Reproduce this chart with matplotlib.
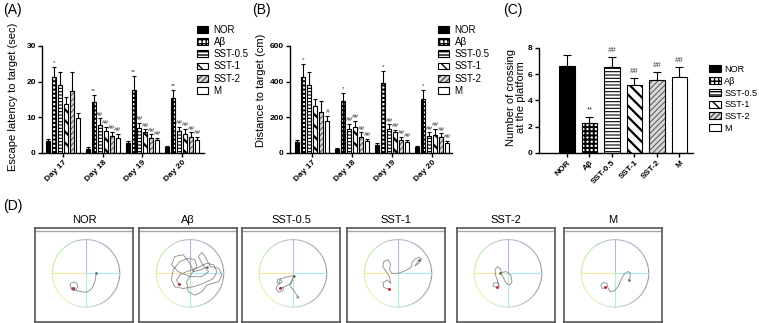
import numpy as np
import matplotlib
matplotlib.use("Agg")
import matplotlib.pyplot as plt
from matplotlib.patches import Patch
from matplotlib.collections import LineCollection
from matplotlib.colors import LinearSegmentedColormap

plt.rcParams['font.family'] = ['Liberation Sans', 'DejaVu Sans']
plt.rcParams['hatch.linewidth'] = 1.0

W, H = 759, 323

groups = ["NOR", "A\u03b2", "SST-0.5", "SST-1", "SST-2", "M"]
days = ["Day 17", "Day 18", "Day 19", "Day 20"]

# (A) escape latency (sec): rows = days, cols = groups
lat_mean = [[3.3, 21.2, 19.1, 13.6, 17.3, 9.9],
            [1.2, 14.2, 7.9, 6.1, 4.7, 4.2],
            [2.7, 17.6, 7.1, 5.8, 4.3, 3.6],
            [1.8, 15.5, 6.1, 5.3, 4.6, 3.6]]
lat_top = [[3.9, 24.1, 22.8, 15.7, 22.6, 11.2],
           [1.6, 16.4, 9.7, 7.3, 5.9, 5.4],
           [3.5, 21.5, 8.5, 6.6, 5.2, 4.3],
           [2.1, 17.6, 7.3, 6.8, 5.8, 4.5]]
lat_sig = [["", "*", "", "", "", ""],
           ["", "**", "##", "##", "##", "##"],
           ["", "**", "##", "##", "##", "##"],
           ["", "**", "##", "##", "##", "##"]]

# (B) distance to target (cm)
dist_mean = [[62, 426, 383, 264, 228, 179],
             [24, 290, 136, 146, 90, 67],
             [47, 391, 135, 116, 75, 62],
             [34, 305, 98, 103, 90, 58]]
dist_top = [[75, 501, 454, 301, 292, 206],
            [30, 335, 164, 178, 116, 80],
            [58, 462, 161, 131, 90, 75],
            [41, 355, 115, 135, 110, 70]]
dist_sig = [["", "*", "", "", "", "#"],
            ["", "*", "##", "##", "##", "##"],
            ["", "*", "##", "##", "##", "##"],
            ["", "*", "##", "##", "##", "##"]]

# (C) number of crossings
cross_mean = [6.65, 2.3, 6.54, 5.2, 5.57, 5.78]
cross_top = [7.5, 2.77, 7.28, 5.72, 6.14, 6.55]
cross_sig = ["", "**", "##", "##", "##", "##"]

# (D) swim paths, unit circle coords
nor_path = [(-0.40, -0.45), (-0.47, -0.40), (-0.46, -0.30), (-0.37, -0.26), (-0.27, -0.30),
            (-0.24, -0.40), (-0.30, -0.48), (-0.40, -0.50), (-0.44, -0.46), (-0.36, -0.50),
            (-0.20, -0.53), (-0.05, -0.56), (0.05, -0.55), (0.15, -0.48), (0.22, -0.36),
            (0.27, -0.22), (0.29, -0.10), (0.30, 0.02)]
ab_path = [(-0.33, -0.32), (-0.40, -0.20), (-0.30, -0.05), (-0.10, 0.05), (0.20, 0.15),
           (0.50, 0.30), (0.70, 0.25), (0.80, 0.05), (0.70, -0.15), (0.40, -0.30),
           (0.10, -0.40), (-0.20, -0.45), (-0.45, -0.40), (-0.55, -0.20), (-0.50, 0.10),
           (-0.30, 0.35), (-0.05, 0.45), (0.15, 0.40), (0.20, 0.20), (0.05, 0.00),
           (-0.10, -0.25), (-0.05, -0.55), (0.15, -0.65), (0.35, -0.55), (0.50, -0.35),
           (0.85, -0.25), (0.95, -0.05), (0.85, 0.15), (0.60, 0.20), (0.45, 0.50),
           (0.35, 0.62), (0.25, 0.50), (0.35, 0.30), (0.55, 0.05), (0.35, -0.10),
           (0.00, -0.10), (-0.35, 0.05), (-0.55, 0.25), (-0.45, 0.50), (-0.20, 0.55),
           (0.00, 0.30), (0.10, 0.05), (0.30, 0.10), (0.50, 0.18)]
sst05_path = [(0.02, -0.07), (-0.15, -0.10), (-0.32, -0.15), (-0.45, -0.18), (-0.48, -0.26),
              (-0.40, -0.32), (-0.33, -0.26), (-0.38, -0.18), (-0.42, -0.30), (-0.48, -0.38),
              (-0.50, -0.48), (-0.42, -0.56), (-0.30, -0.52), (-0.28, -0.42), (-0.38, -0.45),
              (-0.25, -0.40), (-0.05, -0.30), (0.02, -0.07), (-0.10, -0.35), (0.05, -0.55),
              (0.14, -0.68), (0.18, -0.72), (0.12, -0.74), (0.12, -0.68)]
sst1_path = [(-0.28, -0.47), (-0.42, -0.42), (-0.45, -0.28), (-0.32, -0.20), (-0.22, -0.30),
             (-0.25, -0.10), (-0.35, 0.05), (-0.45, 0.20), (-0.42, 0.35), (-0.30, 0.40),
             (-0.22, 0.28), (-0.25, 0.10), (-0.18, 0.00), (0.00, 0.00), (0.15, 0.05),
             (0.30, 0.12), (0.40, 0.20), (0.42, 0.32), (0.50, 0.42), (0.62, 0.48),
             (0.70, 0.42), (0.62, 0.30), (0.50, 0.22), (0.63, 0.40)]
sst2_path = [(-0.34, -0.42), (-0.45, -0.38), (-0.42, -0.28), (-0.30, -0.28), (-0.26, -0.38),
             (-0.32, -0.20), (-0.38, -0.02), (-0.38, 0.12), (-0.30, 0.20), (-0.22, 0.12),
             (-0.18, -0.05), (-0.05, -0.30), (0.05, -0.35), (0.12, -0.25), (0.08, -0.05),
             (-0.05, 0.05), (-0.24, 0.02)]
m_path = [(-0.29, -0.42), (-0.38, -0.45), (-0.42, -0.35), (-0.35, -0.27), (-0.24, -0.30),
          (-0.22, -0.40), (-0.15, -0.55), (-0.02, -0.52), (0.10, -0.38), (0.20, -0.15),
          (0.28, -0.02), (0.38, 0.05), (0.45, 0.02), (0.45, -0.10), (0.41, -0.20)]
paths = [nor_path, ab_path, sst05_path, sst1_path, sst2_path, m_path]
start_pts = [(-0.40, -0.45), (-0.33, -0.32), (-0.38, -0.45), (-0.28, -0.47), (-0.34, -0.42), (-0.29, -0.42)]
end_pts = [(0.30, 0.02), (0.50, 0.18), (0.02, -0.07), (0.63, 0.40), (-0.24, 0.02), (0.41, -0.20)]

# bar styles: face, hatch, hatch colour, hatch width
styles = [("black", "", "black", 1.0),
          ("white", "++++", "black", 1.4),
          ("white", "-----", "black", 0.8),
          ("white", "\\\\\\", "black", 1.6),
          ("#d8d8d8", "//////", "#555555", 0.7),
          ("white", "", "black", 1.0)]


def rect(x0, y0, x1, y1):
    return [x0 / W, 1 - y1 / H, (x1 - x0) / W, (y1 - y0) / H]


def styled_bar(ax, x, h, w, k, top, capsize):
    face, hatch, hc, hlw = styles[k]
    bars = ax.bar(x, h, w, color=face, edgecolor=hc, hatch=hatch, linewidth=0, zorder=2)
    for p in bars:
        if hasattr(p, "set_hatch_linewidth"):
            p.set_hatch_linewidth(hlw)
    ax.bar(x, h, w, fill=False, edgecolor="black", linewidth=0.8, zorder=3)
    err = np.array(top) - np.array(h)
    ax.errorbar(x, h, yerr=[np.zeros_like(err), err], fmt="none", ecolor="black",
                elinewidth=0.8, capsize=capsize, capthick=0.8, zorder=1)


def style_axes(ax):
    for s in ["top", "right"]:
        ax.spines[s].set_visible(False)
    for s in ["left", "bottom"]:
        ax.spines[s].set_linewidth(1.0)
    ax.tick_params(length=3, width=1.0, labelsize=6, pad=1.5)
    for lab in ax.get_yticklabels():
        lab.set_fontweight("bold")


def legend_handles():
    hs = []
    for face, hatch, hc, hlw in styles:
        hs.append((Patch(facecolor=face, edgecolor=hc, hatch=hatch, linewidth=0),
                   Patch(fill=False, edgecolor="black", linewidth=0.8)))
    return hs


fig = plt.figure(figsize=(W / 100, H / 100), dpi=100)

bw = 0.15
for ax_rect, xlim, means, tops, sigs, ylim, yt, ylab, ylx, yly, legx, off in [
        (rect(42, 46, 204, 153), (-0.53, 3.55), lat_mean, lat_top, lat_sig, 30, [0, 10, 20, 30],
         "Escape latency to target (sec)", 13, 97, 197, 0.5),
        (rect(290, 46, 452, 153), (-0.56, 3.49), dist_mean, dist_top, dist_sig, 600, [0, 200, 400, 600],
         "Distance to target (cm)", 261, 90, 438, 10)]:
    ax = fig.add_axes(ax_rect)
    for k in range(6):
        xs = np.arange(4) + (k - 2.5) * bw
        h = [means[d][k] for d in range(4)]
        t = [tops[d][k] for d in range(4)]
        styled_bar(ax, xs, h, 0.1, k, t, 1.3)
        for d in range(4):
            if sigs[d][k]:
                ax.text(xs[d], t[d] + off, sigs[d][k], ha="center", va="bottom",
                        fontsize=4.6, color="#333333", style="italic" if "#" in sigs[d][k] else "normal")
    ax.set_xlim(*xlim)
    ax.set_ylim(0, ylim)
    ax.set_yticks(yt)
    ax.set_xticks(np.arange(4))
    ax.set_xticklabels(days, rotation=45, ha="right", rotation_mode="anchor",
                       fontsize=6, fontweight="bold")
    style_axes(ax)
    ax.tick_params(axis="x", length=3)
    fig.text(ylx / W, 1 - yly / H, ylab, rotation=90, ha="center", va="center", fontsize=8)
    fig.legend(legend_handles(), groups, loc="upper left", bbox_to_anchor=(legx / W, 1 - 25 / H),
               frameon=False, fontsize=7, handlelength=1.1, handleheight=0.7,
               handletextpad=0.6, labelspacing=0.22, borderpad=0, borderaxespad=0)

# (C)
axc = fig.add_axes(rect(539, 48, 693, 153))
for k in range(6):
    styled_bar(axc, [k], [cross_mean[k]], 0.69, k, [cross_top[k]], 3)
    if cross_sig[k]:
        axc.text(k, cross_top[k] + 0.25, cross_sig[k], ha="center", va="bottom",
                 fontsize=5.5, color="#333333", style="italic" if "#" in cross_sig[k] else "normal")
axc.set_xlim(-1.24, 5.6)
axc.set_ylim(0, 8)
axc.set_yticks([0, 2, 4, 6, 8])
axc.set_xticks(np.arange(6))
axc.set_xticklabels(groups, rotation=45, ha="right", rotation_mode="anchor",
                    fontsize=6, fontweight="bold")
style_axes(axc)
fig.text(516 / W, 1 - 97 / H, "Number of crossing\nat the platform", rotation=90,
         ha="center", va="center", fontsize=8, linespacing=1.1)
fig.legend(legend_handles(), groups, loc="upper left", bbox_to_anchor=(709 / W, 1 - 65 / H),
           frameon=False, fontsize=6.6, handlelength=1.3, handleheight=0.8,
           handletextpad=0.35, labelspacing=0.3, borderpad=0, borderaxespad=0)

# panel letters
for lab, x, y in [("(A)", 3, 3), ("(B)", 252, 3), ("(C)", 503, 3), ("(D)", 3, 199)]:
    fig.text(x / W, 1 - y / H, lab, ha="left", va="top", fontsize=10)

# (D) swim path boxes
ring = LinearSegmentedColormap.from_list("ring", [
    (0.0, "#9c84a4"), (0.25, "#b8b0cc"), (0.375, "#b4e0b0"), (0.5, "#d4eca0"),
    (0.625, "#eeeea8"), (0.75, "#b4e4d8"), (0.875, "#a8a8a8"), (1.0, "#9c84a4")])
th = np.linspace(0, 2 * np.pi, 181)
segs = [[(np.cos(th[i]), np.sin(th[i])), (np.cos(th[i + 1]), np.sin(th[i + 1]))] for i in range(180)]
ring_cols = ring(np.linspace(0, 1, 180))

box_x = [35, 139, 242, 347, 457, 564]
for i, name in enumerate(groups):
    x0 = box_x[i]
    axd = fig.add_axes(rect(x0, 228, x0 + 98, 322))
    axd.set_xlim(-51 / 33.7, 47 / 33.7)
    axd.set_ylim(-48.7 / 33.7, 45.3 / 33.7)
    axd.set_xticks([])
    axd.set_yticks([])
    for s in axd.spines.values():
        s.set_color("#555555")
        s.set_linewidth(1.2)
    axd.axhline(45.3 / 33.7 - 0.1, color="#aaaaaa", lw=1.0)
    axd.add_collection(LineCollection(segs, colors=ring_cols, linewidths=0.8))
    axd.plot([0, 0], [0, 1], color="#b8b4dc", lw=0.8)
    axd.plot([0, 0], [0, -1], color="#b4ecd4", lw=0.8)
    axd.plot([-1, 0], [0, 0], color="#f0ea98", lw=0.8)
    axd.plot([0, 1], [0, 0], color="#ace8ec", lw=0.8)
    px, py = zip(*paths[i])
    axd.plot(px, py, color="#888888", lw=0.6)
    axd.plot(*start_pts[i], "o", ms=2.2, color="#c03030", mec="none")
    axd.plot(*end_pts[i], "s", ms=2.0, color="#305030", mec="none")
    fig.text((x0 + 49) / W, 1 - 220 / H, name, ha="center", va="center", fontsize=8)

fig.savefig("out.png", dpi=100)
